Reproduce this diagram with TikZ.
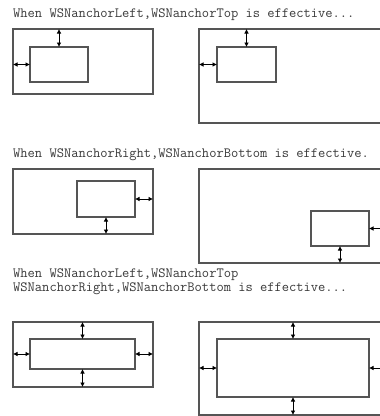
\documentclass[tikz,border=0pt]{standalone}
\usetikzlibrary{arrows.meta}
\definecolor{rectgray}{HTML}{555555}
\definecolor{txtgray}{HTML}{3A3A3A}
\tikzset{
  box/.style={draw=rectgray, line width=1.2pt, inner sep=0pt, outer sep=0pt, fill=none},
  arr/.style={{Latex[length=4.5pt,width=4.8pt]}-{Latex[length=4.5pt,width=4.8pt]}, line width=1pt, black},
  caption/.style={anchor=base west, inner sep=0pt, text=txtgray, font=\ttfamily\fontsize{14.1}{13.5}\selectfont, align=left}
}
\begin{document}
\begin{tikzpicture}[x=1pt,y=-1pt]
\useasboundingbox (0,0) rectangle (380,416);
\fill[white] (0,0) rectangle (380,416);
\begin{scope}
\clip (0,0) rectangle (380,416);
% ---------- Row 1 ----------
\node[caption] (t1) at (13,17.5) {When WSNanchorLeft,WSNanchorTop is effective...};
\node[box, minimum width=140, minimum height=65] (o1) at (83,61.5) {};
\node[box, minimum width=58, minimum height=35] (i1) at (59,64.5) {};
\draw[arr] (i1.north) -- (i1.north |- o1.north);
\draw[arr] (i1.west) -- (i1.west -| o1.west);
\node[box, minimum width=188, minimum height=94] (o2) at (293,76) {};
\node[box, minimum width=59, minimum height=35] (i2) at (246.5,64.5) {};
\draw[arr] (i2.north) -- (i2.north |- o2.north);
\draw[arr] (i2.west) -- (i2.west -| o2.west);
% ---------- Row 2 ----------
\node[caption] (t2) at (13,157) {When WSNanchorRight,WSNanchorBottom is effective.};
\node[box, minimum width=140, minimum height=65] (o3) at (83,201.5) {};
\node[box, minimum width=58, minimum height=36] (i3) at (106,199) {};
\draw[arr] (i3.east) -- (i3.east -| o3.east);
\draw[arr] (i3.south) -- (i3.south |- o3.south);
\node[box, minimum width=188, minimum height=94] (o4) at (293,216) {};
\node[box, minimum width=58, minimum height=35] (i4) at (340,228.5) {};
\draw[arr] (i4.east) -- (i4.east -| o4.east);
\draw[arr] (i4.south) -- (i4.south |- o4.south);
% ---------- Row 3 ----------
\node[caption] (t3) at (13,291.5) {When WSNanchorLeft,WSNanchorTop\\[0.5pt]WSNanchorRight,WSNanchorBottom is effective...};
\node[box, minimum width=140, minimum height=65] (o5) at (83,354.5) {};
\node[box, minimum width=105, minimum height=30] (i5) at (82.5,354) {};
\draw[arr] (i5.north) -- (i5.north |- o5.north);
\draw[arr] (i5.south) -- (i5.south |- o5.south);
\draw[arr] (i5.west) -- (i5.west -| o5.west);
\draw[arr] (i5.east) -- (i5.east -| o5.east);
\node[box, minimum width=188, minimum height=93] (o6) at (293,368.5) {};
\node[box, minimum width=152, minimum height=58] (i6) at (293,368) {};
\draw[arr] (i6.north) -- (i6.north |- o6.north);
\draw[arr] (i6.south) -- (i6.south |- o6.south);
\draw[arr] (i6.west) -- (i6.west -| o6.west);
\draw[arr] (i6.east) -- (i6.east -| o6.east);
\end{scope}
\end{tikzpicture}
\end{document}
